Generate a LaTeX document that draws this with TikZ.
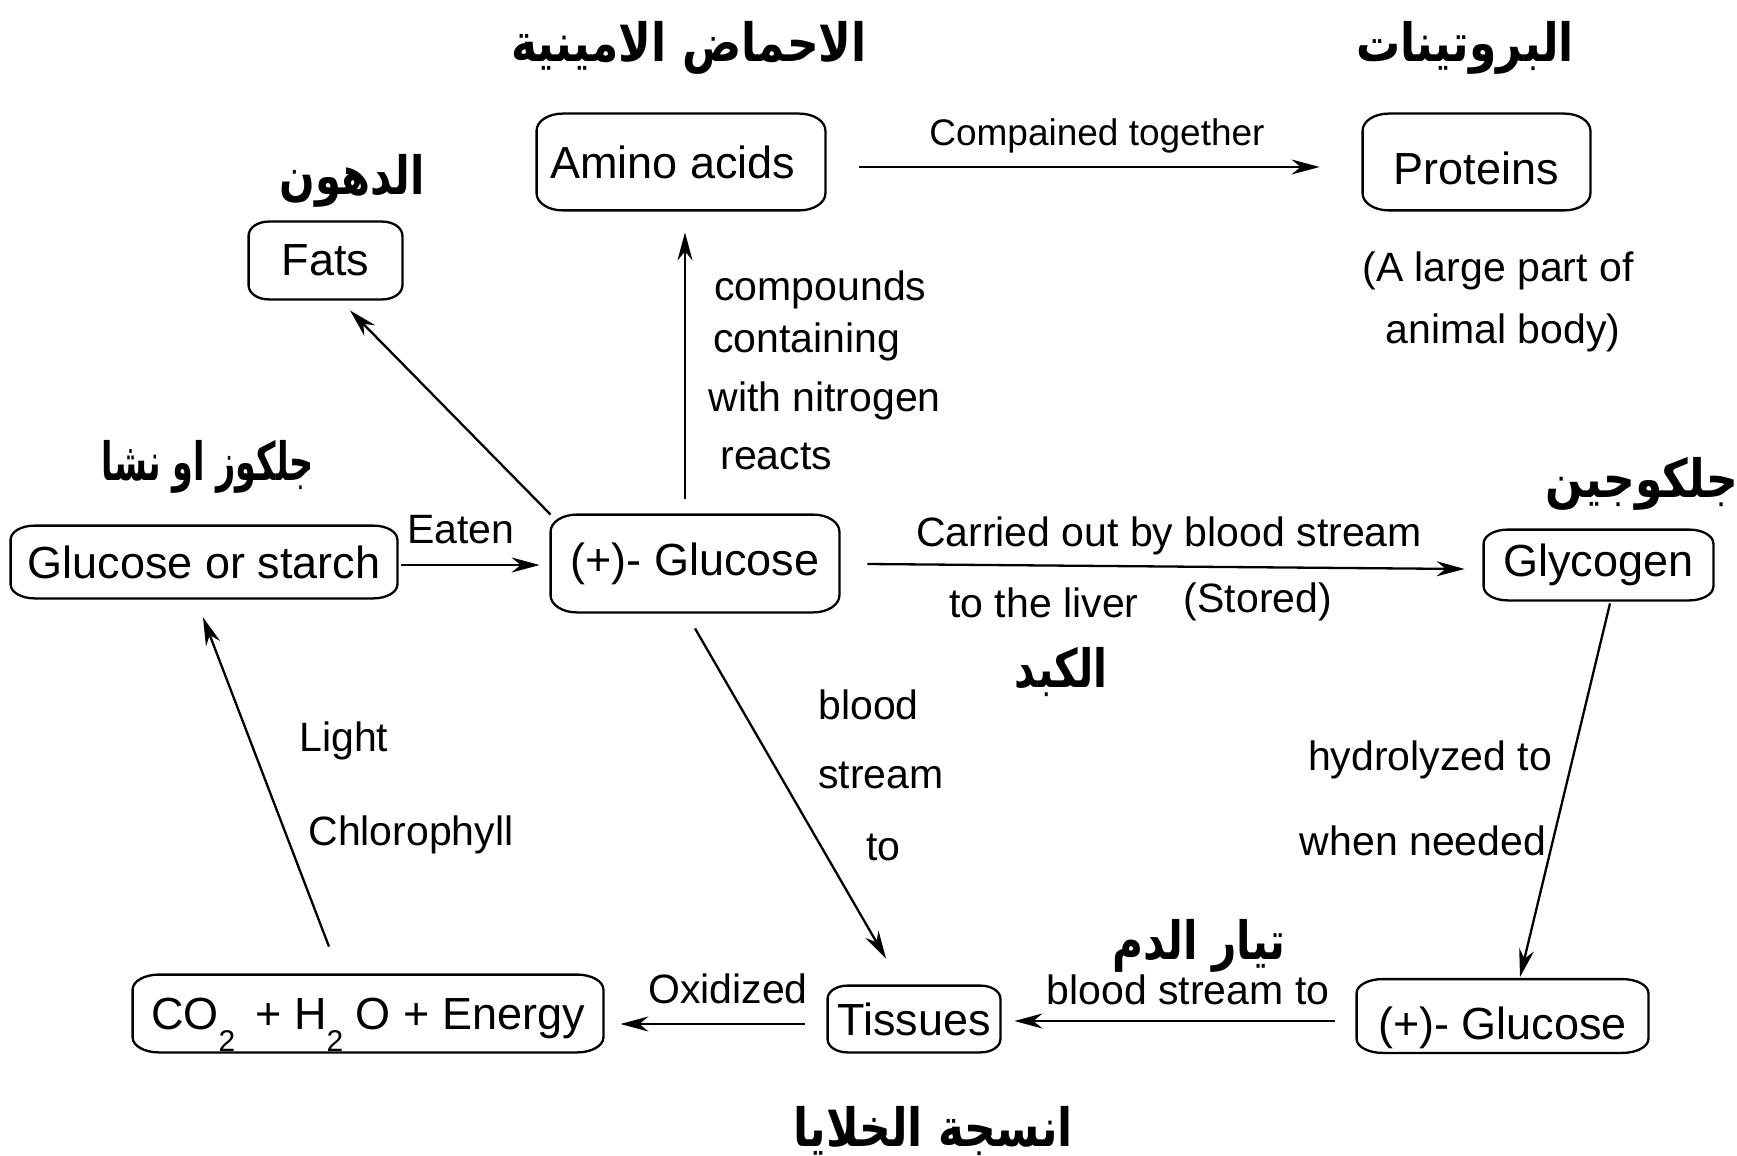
\documentclass[tikz,border=0pt]{standalone}
\usepackage{fontspec}
\usepackage{graphicx}
\setmainfont{Liberation Sans}
\newfontfamily\arabicfont[Script=Arabic]{DejaVu Sans}
\TeXXeTstate=1
\usetikzlibrary{arrows.meta,calc}
\newcommand{\artxt}[2][1]{\scalebox{#1}[1.2]{\beginR #2\endR}}
\newcommand{\subtxt}[1]{\raisebox{-11pt}{\fontsize{15}{15}\selectfont #1}}
\tikzset{
  box/.style={inner sep=0pt, font=\fontsize{22.5}{27}\selectfont},
  boxline/.style={draw, line width=1.15pt},
  lowtext/.style={text height=#1, text depth=0pt},
  lbl/.style={inner sep=0pt, yshift=-1.7pt, font=\fontsize{20.5}{24}\selectfont},
  ar/.style={inner sep=0pt, yshift=-2pt, font=\arabicfont\bfseries\fontsize{22}{26}\selectfont},
  arr/.style={line width=1.15pt, -{Stealth[length=14pt,width=7.5pt,inset=4.5pt]}}
}
\begin{document}
\begin{tikzpicture}[x=0.5pt,y=-0.5pt]
\useasboundingbox (0,0) rectangle (1737,1156);

% boxes
\node[box, minimum width=76.5pt, minimum height=38.5pt] (fats) at (325.5,260.5) {Fats};
\node[box, minimum width=144pt, minimum height=48pt] (amino) at (681,162) {Amino acids\kern8pt};
\node[box, minimum width=113.5pt, minimum height=48pt, lowtext=22.6pt] (proteins) at (1476.5,162) {Proteins};
\node[box, minimum width=193pt, minimum height=36pt] (starch) at (204,562) {Glucose or starch};
\node[box, minimum width=144pt, minimum height=48.5pt] (glc) at (695,563.5) {(+)- Glucose};
\node[box, minimum width=114.5pt, minimum height=35pt] (glycogen) at (1598.5,565) {Glycogen};
\node[box, minimum width=145.5pt, minimum height=36.5pt, lowtext=23.6pt] (glc2) at (1502.5,1016) {(+)- Glucose};
\node[box, minimum width=86pt, minimum height=33pt] (tissues) at (914,1019) {Tissues};
\node[box, minimum width=235pt, minimum height=38.5pt, lowtext=16.4pt] (co2) at (368,1013.5)
  {CO\subtxt{2}\ \,+ H\subtxt{2}\ O + Energy};

% box outlines (elliptic corners)
\foreach \n/\rx/\ry in {fats/10/7, amino/13/8.5, proteins/13/8.5, starch/12/7, glc/13/8.5,
    glycogen/12/7, glc2/13/7, tissues/10/6.5, co2/13/7.5} {
  \draw[boxline] ([yshift=-\ry pt]\n.north west)
    arc[start angle=180, end angle=90, x radius=\rx pt, y radius=\ry pt]
    -- ([xshift=-\rx pt]\n.north east)
    arc[start angle=90, end angle=0, x radius=\rx pt, y radius=\ry pt]
    -- ([yshift=\ry pt]\n.south east)
    arc[start angle=0, end angle=-90, x radius=\rx pt, y radius=\ry pt]
    -- ([xshift=\rx pt]\n.south west)
    arc[start angle=270, end angle=180, x radius=\rx pt, y radius=\ry pt]
    -- cycle;
}

% Arabic titles
\node[ar] (tamino) at (689,44) {\artxt{الاحماض الامينية}};
\node[ar] (tprot) at (1465,44) {\artxt{البروتينات}};
\node[ar] (tfats) at (352,177) {\artxt[0.95]{الدهون}};
\node[ar] (tstarch) at (208,463) {\artxt[0.76]{جلكوز او نشا}};
\node[ar] (tglyc) at (1642,480) {\artxt{جلكوجين}};
\node[ar] (tliver) at (1061,668) {\artxt[0.92]{الكبد}};
\node[ar] (tblood) at (1199,942) {\artxt[0.96]{تيار الدم}};
\node[ar] (ttiss) at (933,1127) {\artxt{انسجة الخلايا}};

% labels
\node[lbl, font=\fontsize{18.5}{22}\selectfont] (lcomp) at (1097,133) {Compained together};
\node[lbl] (llarge) at (1498,267) {(A large part of};
\node[lbl] (lanimal) at (1503,329) {animal body)};
\node[lbl] (leaten) at (461,526) {Eaten};
\node[lbl, anchor=west] (lc1) at (714,286) {compounds};
\node[lbl, anchor=west] (lc2) at (713,338) {containing};
\node[lbl, anchor=west] (lc3) at (708,397) {with nitrogen};
\node[lbl, anchor=west] (lc4) at (720,453) {reacts};
\node[lbl] (lcarried) at (1169,532) {Carried out by blood stream};
\node[lbl] (lliver) at (1044,599) {to the liver};
\node[lbl] (lstored) at (1258,598) {(Stored)};
\node[lbl, anchor=west] (lb1) at (818,701) {blood};
\node[lbl, anchor=west] (lb2) at (818,772) {stream};
\node[lbl, anchor=west] (lb3) at (866,844) {to};
\node[lbl] (lhyd) at (1430,756) {hydrolyzed to};
\node[lbl] (lwhen) at (1423,837) {when needed};
\node[lbl] (lbst) at (1188,986) {blood stream to};
\node[lbl] (lox) at (728,985) {Oxidized};
\node[lbl, anchor=west] (llight) at (299,737) {Light};
\node[lbl, anchor=west] (lchl) at (308,831) {Chlorophyll};

% connectors
\draw[arr] (glc.north west) -- ($(fats.south)+(24.5,11)$);
\draw[arr] ($(glc.north)+(-10,-16)$) -- ($(amino.south)+(4,22)$);
\draw[arr] ($(amino.east)+(34,5)$) -- ($(proteins.west)+(-43,5)$);
\draw[arr] ($(starch.east)+(4,3)$) -- ($(glc.west)+(-11,1.5)$);
\draw[arr] ($(glc.east)+(28,0.5)$) -- ($(glycogen.west)+(-19,4)$);
\draw[arr] ($(glycogen.south)+(11.5,3)$) -- ($(glc2.north)+(17.5,-2)$);
\draw[arr] ($(glc.south)+(0,16)$) -- ($(tissues.north)+(-28,-27)$);
\draw[arr] ($(glc2.west)+(-22,5)$) -- ($(tissues.east)+(14,2)$);
\draw[arr] ($(tissues.west)+(-23,5)$) -- ($(co2.east)+(17,10.5)$);
\draw[arr] ($(co2.north)+(-39,-28)$) -- ($(starch.south)+(-1,19)$);
\end{tikzpicture}
\end{document}
